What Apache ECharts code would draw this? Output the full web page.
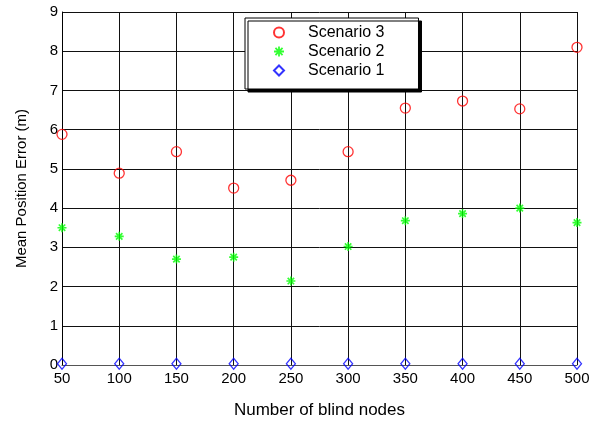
<!DOCTYPE html>
<html><head><meta charset="utf-8">
<script src="https://cdn.jsdelivr.net/npm/echarts@6/dist/echarts.min.js"></script>
<style>html,body{margin:0;padding:0;background:#fff;}#c{width:606px;height:424px;}</style>
</head><body><div id="c"></div>
<script>
const nodes = [50, 100, 150, 200, 250, 300, 350, 400, 450, 500];
const scenario3 = [5.88, 4.89, 5.44, 4.51, 4.71, 5.44, 6.55, 6.73, 6.53, 8.10];
const scenario2 = [3.50, 3.28, 2.70, 2.75, 2.14, 3.02, 3.68, 3.86, 4.00, 3.63];
const scenario1 = [0.03, 0.03, 0.03, 0.03, 0.03, 0.03, 0.03, 0.03, 0.03, 0.03];
const seriesNames = ['Scenario 3', 'Scenario 2', 'Scenario 1'];
const yTicks = [0, 1, 2, 3, 4, 5, 6, 7, 8, 9];

const pair = (vals) => nodes.map((x, i) => [x, vals[i]]);
const FONT = '"Liberation Sans", Arial, Helvetica, sans-serif';
const asterisk = 'path://M-5,-0.9L5,-0.9L5,0.9L-5,0.9Z M-0.9,-5L0.9,-5L0.9,5L-0.9,5Z M-4.2,-2.9L-2.9,-4.2L4.2,2.9L2.9,4.2Z M2.9,-4.2L4.2,-2.9L-2.9,4.2L-4.2,2.9Z';

const chart = echarts.init(document.getElementById('c'), null, {renderer: 'canvas'});
chart.setOption({
  animation: false,
  backgroundColor: '#fff',
  grid: {left: 62, right: 29, top: 12, bottom: 55, containLabel: false},
  xAxis: {
    type: 'value', min: 50, max: 500, interval: 50,
    name: 'Number of blind nodes', nameLocation: 'middle', nameGap: 37,
    nameTextStyle: {fontFamily: FONT, fontSize: 17, color: '#000'},
    axisLine: {show: true, onZero: false, lineStyle: {color: '#555', width: 1}},
    axisTick: {show: false},
    axisLabel: {fontFamily: FONT, fontSize: 15, color: '#000', margin: 6},
    splitLine: {show: true, lineStyle: {color: '#111', width: 1}}
  },
  yAxis: {
    type: 'value', min: 0, max: 9, interval: 1,
    name: 'Mean Position Error (m)', nameLocation: 'middle', nameGap: 33,
    nameTextStyle: {fontFamily: FONT, fontSize: 15, color: '#000'},
    axisLine: {show: true, lineStyle: {color: '#000', width: 1}},
    axisTick: {show: false},
    axisLabel: {fontFamily: FONT, fontSize: 15, color: '#000', margin: 4,
      formatter: (v) => yTicks.includes(v) ? String(v) : ''},
    splitLine: {show: true, lineStyle: {color: '#111', width: 1}}
  },
  legend: {
    data: seriesNames,
    orient: 'vertical',
    left: 245, top: 18,
    itemWidth: 10, itemHeight: 10, itemGap: 0,
    padding: [5, 34, 9, 28],
    backgroundColor: '#fff',
    borderColor: '#000', borderWidth: 1,
    shadowColor: '#000', shadowBlur: 0, shadowOffsetX: 3, shadowOffsetY: 3,
    textStyle: {fontFamily: FONT, fontSize: 16, color: '#000', lineHeight: 19, padding: [0, 0, 0, 19]}
  },
  series: [
    {name: 'Scenario 3', type: 'scatter', clip: false, data: pair(scenario3),
     symbol: 'circle', symbolSize: 10,
     itemStyle: {color: 'rgba(255,255,255,0)', borderColor: '#ff0000', borderWidth: 1.3}},
    {name: 'Scenario 2', type: 'scatter', clip: false, data: pair(scenario2),
     symbol: asterisk, symbolSize: 9,
     itemStyle: {color: '#00ff00'}},
    {name: 'Scenario 1', type: 'scatter', clip: false, data: pair(scenario1),
     symbol: 'diamond', symbolSize: [9, 11],
     itemStyle: {color: 'rgba(255,255,255,0)', borderColor: '#0000ff', borderWidth: 1.3}}
  ]
});
</script></body></html>
